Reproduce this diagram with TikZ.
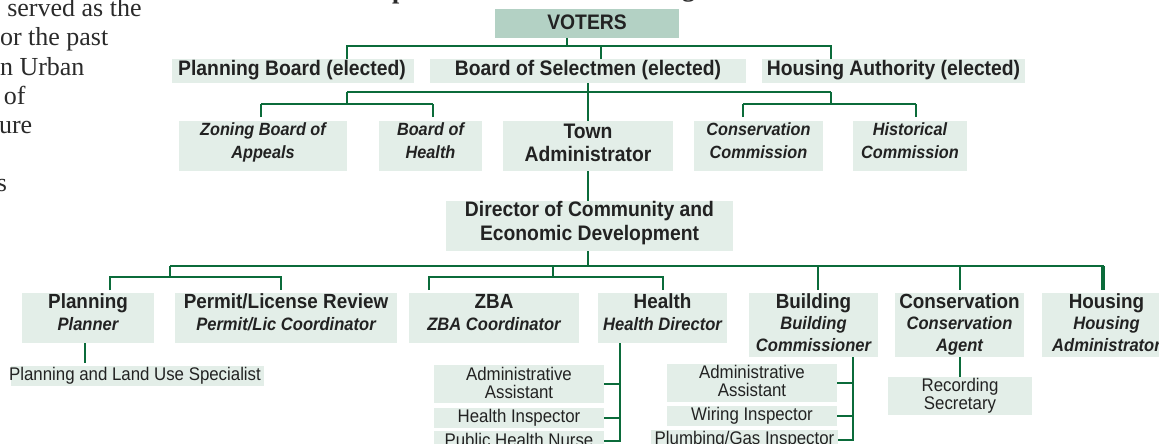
\documentclass[tikz,border=0pt]{standalone}
\usepackage{fontspec}
\setmainfont{Liberation Sans}[FakeStretch=0.92]
\newfontfamily\serifL{Liberation Serif}
\usetikzlibrary{calc}
\definecolor{boxfill}{HTML}{E3EEE8}
\definecolor{votfill}{HTML}{B3D1C4}
\definecolor{lnc}{HTML}{0B6B3A}
\definecolor{txt}{HTML}{222222}
\definecolor{sertxt}{HTML}{2A2A2A}
\newcommand{\ml}[1]{\begin{tabular}[t]{@{}c@{}}#1\end{tabular}}
\newcommand{\fMain}{\fontsize{21}{23.5}\selectfont\bfseries}
\newcommand{\fHd}{\fontsize{20.5}{22}\selectfont\bfseries}
\newcommand{\fIt}{\bfseries\itshape}
\newcommand{\fSub}{\fontsize{18.3}{18}\selectfont}
\tikzset{
  box/.style={fill=boxfill, draw=none, inner sep=0pt, outer sep=0pt},
  lbl/.style={anchor=base, inner sep=0pt, outer sep=0pt, text=txt},
  thinln/.style={draw=lnc, line width=1.3pt},
  midln/.style={draw=lnc, line width=2pt},
  thickln/.style={draw=lnc, line width=2.7pt},
  vthickln/.style={draw=lnc, line width=3.3pt},
  sertext/.style={anchor=base west, inner sep=0pt, outer sep=0pt, text=sertxt,
    font=\serifL\fontsize{26}{29}\selectfont},
}
\begin{document}
\begin{tikzpicture}[x=1pt,y=-1pt]
\useasboundingbox (0,0) rectangle (1159,444);
\clip (0,0) rectangle (1159,444);

% left page text fragments
\node[sertext] at (7.3,16.7) {served as the};
\node[sertext] at (0,45.5) {or the past};
\node[sertext] at (0,75) {n Urban};
\node[sertext] at (4,104) {of};
\node[sertext] at (-1,133) {ure};
\node[sertext] at (-3,191.7) {s};
% descenders of the cut-off title
\node[anchor=base west, inner sep=0pt, text=sertxt, font=\serifL\bfseries\fontsize{26}{29}\selectfont] at (392,-1.5) {p};
\node[anchor=base west, inner sep=0pt, text=sertxt, font=\serifL\bfseries\fontsize{26}{29}\selectfont] at (682,-3.5) {g};

% ---------- boxes ----------
\node[box, fill=votfill, minimum width=184pt, minimum height=29pt] (voters) at (587,23.5) {};
\node[box, minimum width=242pt, minimum height=24pt] (pb) at (293,71) {};
\node[box, minimum width=316pt, minimum height=24pt] (bos) at (588,71) {};
\node[box, minimum width=263pt, minimum height=24pt] (ha) at (893.5,71) {};

\node[box, minimum width=168pt, minimum height=50pt] (zbab) at (263,146) {};
\node[box, minimum width=103pt, minimum height=50pt] (boh) at (430.5,146) {};
\node[box, minimum width=170pt, minimum height=50pt] (ta) at (588,146) {};
\node[box, minimum width=129pt, minimum height=50pt] (cc) at (758.5,146) {};
\node[box, minimum width=114pt, minimum height=50pt] (hc) at (910,146) {};

\node[box, minimum width=287pt, minimum height=50pt] (dir) at (589.5,226) {};

\node[box, minimum width=132pt, minimum height=50pt] (planning) at (88,318) {};
\node[box, minimum width=222pt, minimum height=50pt] (permit) at (286,318) {};
\node[box, minimum width=170pt, minimum height=50pt] (zba) at (494,318) {};
\node[box, minimum width=129pt, minimum height=50pt] (health) at (662.5,318) {};
\node[box, minimum width=129pt, minimum height=64pt] (building) at (813.5,325) {};
\node[box, minimum width=129pt, minimum height=64pt] (conservation) at (959.5,325) {};
\node[box, minimum width=129pt, minimum height=64pt] (housing) at (1106.5,325) {};

\node[box, minimum width=253pt, minimum height=20pt] (pluse) at (137.5,376) {};
\node[box, minimum width=170pt, minimum height=38pt] (haa) at (519,384) {};
\node[box, minimum width=170pt, minimum height=20pt] (hhi) at (519,418) {};
\node[box, minimum width=170pt, minimum height=20pt] (hphn) at (519,441) {};
\node[box, minimum width=170pt, minimum height=38pt] (baa) at (752,383) {};
\node[box, minimum width=170pt, minimum height=20pt] (bwi) at (752,416) {};
\node[box, minimum width=187pt, minimum height=20pt] (bpg) at (744.5,440) {};
\node[box, minimum width=144pt, minimum height=38pt] (rs) at (960,396) {};

% ---------- texts ----------
\node[lbl, font=\fMain] at (587,29.3) {VOTERS};
\node[lbl, font=\fMain] at (292,76) {Planning Board (elected)};
\node[lbl, font=\fMain] at (588,76) {Board of Selectmen (elected)};
\node[lbl, font=\fMain] at (893.5,76) {Housing Authority (elected)};

\node[lbl, font=\fontsize{17.7}{23}\selectfont\fIt] at (263,135) {\ml{\smash{Zoning Board of}\\\smash{Appeals}}};
\node[lbl, font=\fontsize{17.7}{23}\selectfont\fIt] at (430.5,135) {\ml{\smash{Board of}\\\smash{Health}}};
\node[lbl, font=\fontsize{21}{23.7}\selectfont\bfseries] at (588,138) {\ml{\smash{Town}\\\smash{Administrator}}};
\node[lbl, font=\fontsize{17.7}{23}\selectfont\fIt] at (758.5,135) {\ml{\smash{Conservation}\\\smash{Commission}}};
\node[lbl, font=\fontsize{17.7}{23}\selectfont\fIt] at (910,135) {\ml{\smash{Historical}\\\smash{Commission}}};

\node[lbl, font=\fontsize{21}{24}\selectfont\bfseries] at (589.5,216.7) {\ml{\smash{Director of Community and}\\\smash{Economic Development}}};

\node[lbl, font=\fontsize{18}{22}\selectfont\fIt] at (88,308) {\ml{\smash{\fHd\upshape Planning}\\\smash{Planner}}};
\node[lbl, font=\fontsize{18}{22}\selectfont\fIt] at (286,308) {\ml{\smash{\fHd\upshape Permit/License Review}\\\smash{Permit/Lic Coordinator}}};
\node[lbl, font=\fontsize{18}{22}\selectfont\fIt] at (494,308) {\ml{\smash{\fHd\upshape ZBA}\\\smash{ZBA Coordinator}}};
\node[lbl, font=\fontsize{18}{22}\selectfont\fIt] at (662.5,308) {\ml{\smash{\fHd\upshape Health}\\\smash{Health Director}}};
\node[lbl, font=\fontsize{18}{21.8}\selectfont\fIt] at (813.5,308) {\ml{\smash{\fHd\upshape Building}\\\smash{Building}\\\smash{Commissioner}}};
\node[lbl, font=\fontsize{18}{21.8}\selectfont\fIt] at (959.5,308) {\ml{\smash{\fHd\upshape Conservation}\\\smash{Conservation}\\\smash{Agent}}};
\node[lbl, font=\fontsize{18}{21.8}\selectfont\fIt] at (1106.5,308) {\ml{\smash{\fHd\upshape Housing}\\\smash{Housing}\\\smash{Administrator}}};

\node[lbl, font=\fSub] at (135,380) {Planning and Land Use Specialist};
\node[lbl, font=\fSub] at (519,380) {\ml{\smash{Administrative}\\\smash{Assistant}}};
\node[lbl, font=\fSub] at (519,422.7) {Health Inspector};
\node[lbl, font=\fSub] at (519,446) {Public Health Nurse};
\node[lbl, font=\fSub] at (752,378.3) {\ml{\smash{Administrative}\\\smash{Assistant}}};
\node[lbl, font=\fSub] at (752,420) {Wiring Inspector};
\node[lbl, font=\fSub] at (744.5,444.5) {Plumbing/Gas Inspector};
\node[lbl, font=\fSub] at (960,391.7) {\ml{\smash{Recording}\\\smash{Secretary}}};

% ---------- connectors ----------
\coordinate (vstem) at (567,46);
\coordinate (b1L) at (347,46);
\coordinate (b1R) at (831,46);
\coordinate (b1M) at (601,46);
\draw[thickln] (voters.south -| vstem) -- (vstem);
\draw[midln] (pb.north -| b1L) -- (b1L) -- (b1R) -- (ha.north -| b1R);
\draw[midln] (b1M) -- (bos.north -| b1M);

\coordinate (b2L) at (347,92);
\coordinate (b2R) at (831,92);
\coordinate (s1) at (347,104);
\coordinate (s1L) at (261,104);
\coordinate (s1R) at (433,104);
\coordinate (s2) at (831,104);
\coordinate (s2L) at (743,104);
\coordinate (s2R) at (916,104);
\draw[thickln] (bos.south) -- (ta.north);
\draw[midln] (b2L) -- (b2R);
\draw[midln] (b2L) -- (s1);
\draw[midln] (b2R) -- (s2);
\draw[midln] (s1L) -- (s1R);
\draw[midln] (s2L) -- (s2R);
\draw[thinln] ($(zbab.north -| s1L)+(0,-4)$) -- (s1L);
\draw[thinln] ($(boh.north -| s1R)+(0,-4)$) -- (s1R);
\draw[thinln] ($(cc.north -| s2L)+(0,-4)$) -- (s2L);
\draw[thinln] ($(hc.north -| s2R)+(0,-4)$) -- (s2R);

\draw[thickln] (ta.south) -- (dir.north -| ta.south);
\coordinate (b3) at (588,266);
\coordinate (b3L) at (170,266);
\coordinate (b3R) at (1104,266);
\draw[thickln] (dir.south -| b3) -- (b3);
\draw[midln] (b3L) -- (b3R);

\coordinate (d1) at (170,277);
\coordinate (d1L) at (110,277);
\coordinate (d1R) at (281,277);
\draw[thickln] (b3L) -- (d1);
\draw[thinln] ($(planning.north -| d1L)+(0,-3)$) -- (d1L) -- (d1R) -- ($(permit.north -| d1R)+(0,-3)$);

\coordinate (d2t) at (553,266);
\coordinate (d2) at (553,277);
\coordinate (d2L) at (429,277);
\coordinate (d2R) at (663,277);
\draw[thickln] (d2t) -- (d2);
\draw[thinln] ($(zba.north -| d2L)+(0,-3)$) -- (d2L) -- (d2R) -- ($(health.north -| d2R)+(0,-3)$);

\coordinate (d3) at (818,266);
\coordinate (d4) at (960,266);
\coordinate (d5) at (1103,266);
\draw[thickln] (d3) -- ($(building.north -| d3)+(0,-3)$);
\draw[thickln] (d4) -- ($(conservation.north -| d4)+(0,-3)$);
\draw[vthickln] (d5) -- ($(housing.north -| d5)+(0,-3)$);

\coordinate (p1) at (85,0);
\draw[thickln] (planning.south -| p1) -- ($(pluse.north -| p1)+(0,-3)$);

\coordinate (hx) at (620,0);
\draw[thickln] (health.south -| hx) |- (hphn.east);
\draw[thickln] (haa.east) -- (haa.east -| hx);
\draw[thickln] (hhi.east) -- (hhi.east -| hx);

\coordinate (bx) at (853,0);
\draw[thickln] (building.south -| bx) |- (bpg.east);
\draw[thickln] (baa.east) -- (baa.east -| bx);
\draw[thickln] (bwi.east) -- (bwi.east -| bx);

\draw[thickln] (conservation.south -| d4) -- (rs.north -| d4);
\end{tikzpicture}
\end{document}
